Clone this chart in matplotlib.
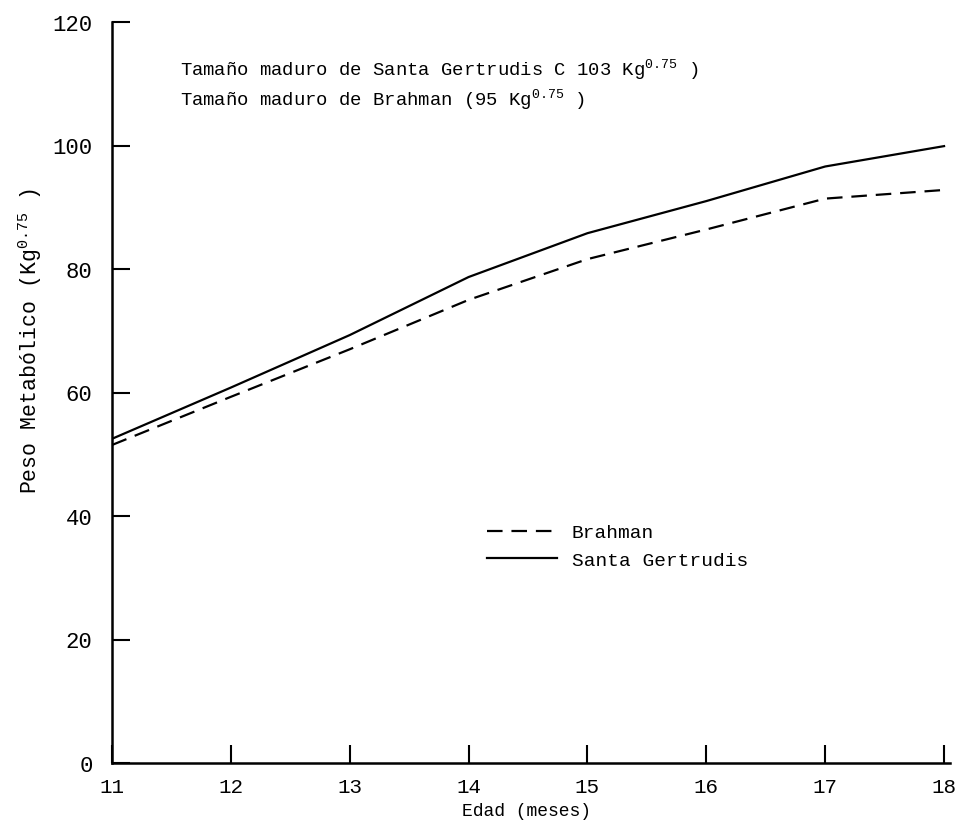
import matplotlib
matplotlib.use("Agg")
from matplotlib import pyplot as plt

# datos
edad = [11, 12, 13, 14, 15, 16, 17, 18]
santa_gertrudis = [52.5, 60.8, 69.3, 78.7, 85.8, 91.0, 96.6, 99.9]
brahman = [51.5, 59.3, 67.0, 75.0, 81.6, 86.4, 91.4, 92.8]
yticks = [0, 20, 40, 60, 80, 100, 120]

plt.rcParams['font.family'] = ['Liberation Mono', 'DejaVu Sans Mono']
plt.rcParams['mathtext.fontset'] = 'custom'
plt.rcParams['mathtext.rm'] = 'Liberation Mono'
plt.rcParams['mathtext.default'] = 'regular'

fig = plt.figure(figsize=(9.55, 8.28), dpi=100)
ax = fig.add_axes([112 / 955, 1 - 764 / 828, 838 / 955, 741 / 828])

ax.plot(edad, brahman, color='black', lw=1.6, dashes=(7, 4), label='Brahman')
ax.plot(edad, santa_gertrudis, color='black', lw=1.6, label='Santa Gertrudis')

ax.set_xlim(11, 18.05)
ax.set_ylim(0, 120)
ax.set_xticks(edad)
ax.set_yticks(yticks)
ax.tick_params(axis='both', direction='in', length=13, width=1.5)
ax.tick_params(axis='y', pad=14, labelsize=16)
ax.tick_params(axis='x', pad=10, labelsize=15)
for s in ['top', 'right']:
    ax.spines[s].set_visible(False)
for s in ['left', 'bottom']:
    ax.spines[s].set_linewidth(1.8)

ax.set_xlabel('Edad (meses)', fontsize=13)
ax.set_ylabel('Peso Metabólico (Kg$^{0.75}$ )', fontsize=15.5)
ax.xaxis.set_label_coords(0.495, -0.053)
ax.yaxis.set_label_coords(-0.081, 0.571)

ax.text(11.57, 112.4, 'Tamaño maduro de Santa Gertrudis C 103 Kg$^{0.75}$ )',
        fontsize=13.6, va='center')
ax.text(11.57, 107.5, 'Tamaño maduro de Brahman (95 Kg$^{0.75}$ )',
        fontsize=13.6, va='center')

ax.legend(loc='upper left', bbox_to_anchor=(0.436, 0.336), frameon=False,
          fontsize=14, borderpad=0, handlelength=3.6, handletextpad=0.75,
          labelspacing=0.5)

plt.savefig('out.png', dpi=100)
